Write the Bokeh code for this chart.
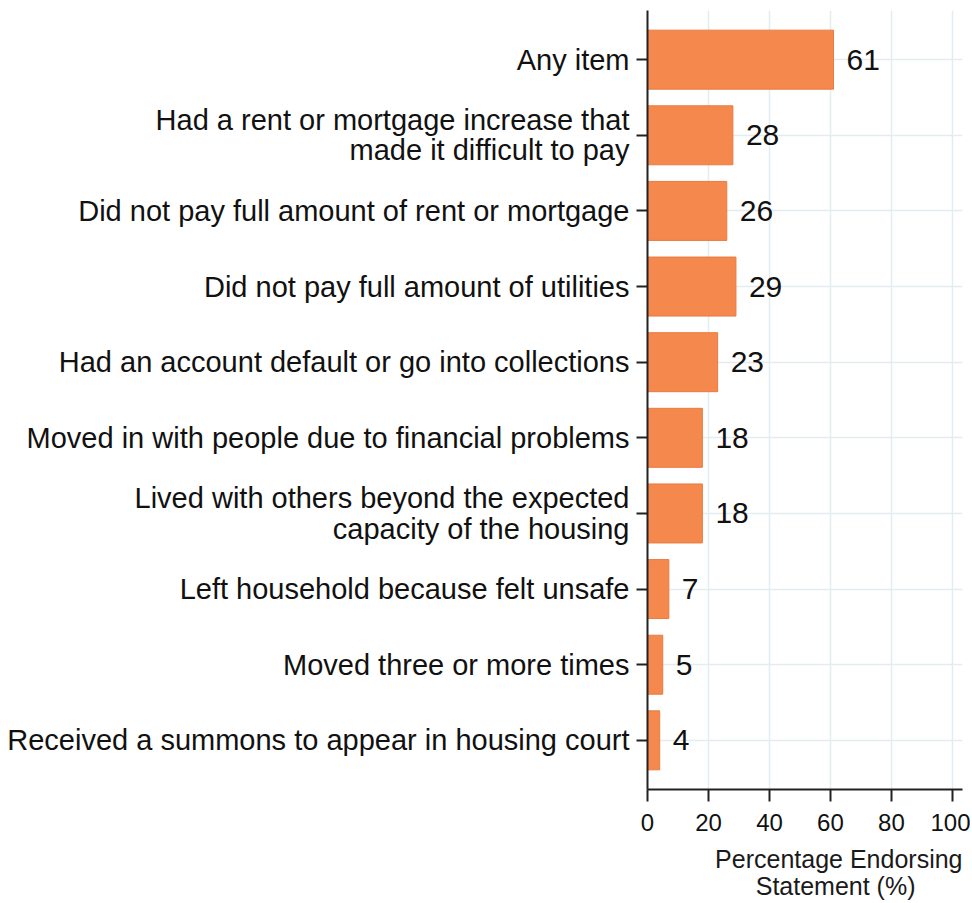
from bokeh.plotting import figure
from bokeh.models import FixedTicker, ColumnDataSource, Title
from bokeh.core.properties import value
from bokeh.embed import file_html
from bokeh.resources import INLINE

categories = [
    "Any item",
    "Had a rent or mortgage increase that\nmade it difficult to pay",
    "Did not pay full amount of rent or mortgage",
    "Did not pay full amount of utilities",
    "Had an account default or go into collections",
    "Moved in with people due to financial problems",
    "Lived with others beyond the expected\ncapacity of the housing",
    "Left household because felt unsafe",
    "Moved three or more times",
    "Received a summons to appear in housing court",
]
values = [61, 28, 26, 29, 23, 18, 18, 7, 5, 4]
x_ticks = [0, 20, 40, 60, 80, 100]
x_title_1 = "Percentage Endorsing"
x_title_2 = "Statement (%)"

n = len(categories)
ypos = [n - 1 - i for i in range(n)]
src = ColumnDataSource(dict(y=ypos, v=values, lab=[str(v) for v in values]))

FONT = "Liberation Sans"

p = figure(width=970, height=903, output_backend="svg", toolbar_location=None,
           x_range=(0, 103.3), y_range=(-0.65, n - 1 + 0.65),
           min_border_left=647, min_border_right=8, min_border_top=10, min_border_bottom=114)
p.outline_line_color = None
p.background_fill_color = "white"

p.hbar(y="y", right="v", left=0, height=0.78, source=src,
       fill_color="#F5884C", line_color="#E97B40", line_width=1)
p.text(x="v", y="y", text="lab", source=src, x_offset=13,
       text_align="left", text_baseline="middle", text_font_size="30px",
       text_font=value(FONT), text_color="#111111")

p.xaxis.ticker = FixedTicker(ticks=x_ticks)
p.yaxis.ticker = FixedTicker(ticks=ypos)
p.yaxis.major_label_overrides = {y: c for y, c in zip(ypos, categories)}

for ax in (p.xaxis, p.yaxis):
    ax.axis_line_color = "#222222"
    ax.axis_line_width = 2
    ax.major_tick_line_color = "#222222"
    ax.major_tick_line_width = 2
    ax.minor_tick_line_color = None
    ax.major_tick_in = 0
    ax.major_label_text_font = FONT
    ax.major_label_text_color = "#111111"

p.yaxis.major_tick_out = 11
p.yaxis.major_label_standoff = 7
p.yaxis.major_label_text_font_size = "29px"
p.yaxis.major_label_text_line_height = 0.95
p.xaxis.major_tick_out = 12
p.xaxis.major_label_standoff = 12
p.xaxis.major_label_text_font_size = "24px"

p.xgrid.grid_line_color = "#E3ECEF"
p.xgrid.grid_line_width = 1.5
p.ygrid.grid_line_color = "#E3ECEF"
p.ygrid.grid_line_width = 1.5

for txt, so, off in ((x_title_1, 18, 0), (x_title_2, -23, 47)):
    p.add_layout(Title(text=txt, align="right", offset=off, standoff=so,
                       text_font=FONT, text_font_size="25px",
                       text_font_style="normal", text_color="#1a1a1a"), "below")

open("out.html", "w").write(file_html(p, INLINE))
